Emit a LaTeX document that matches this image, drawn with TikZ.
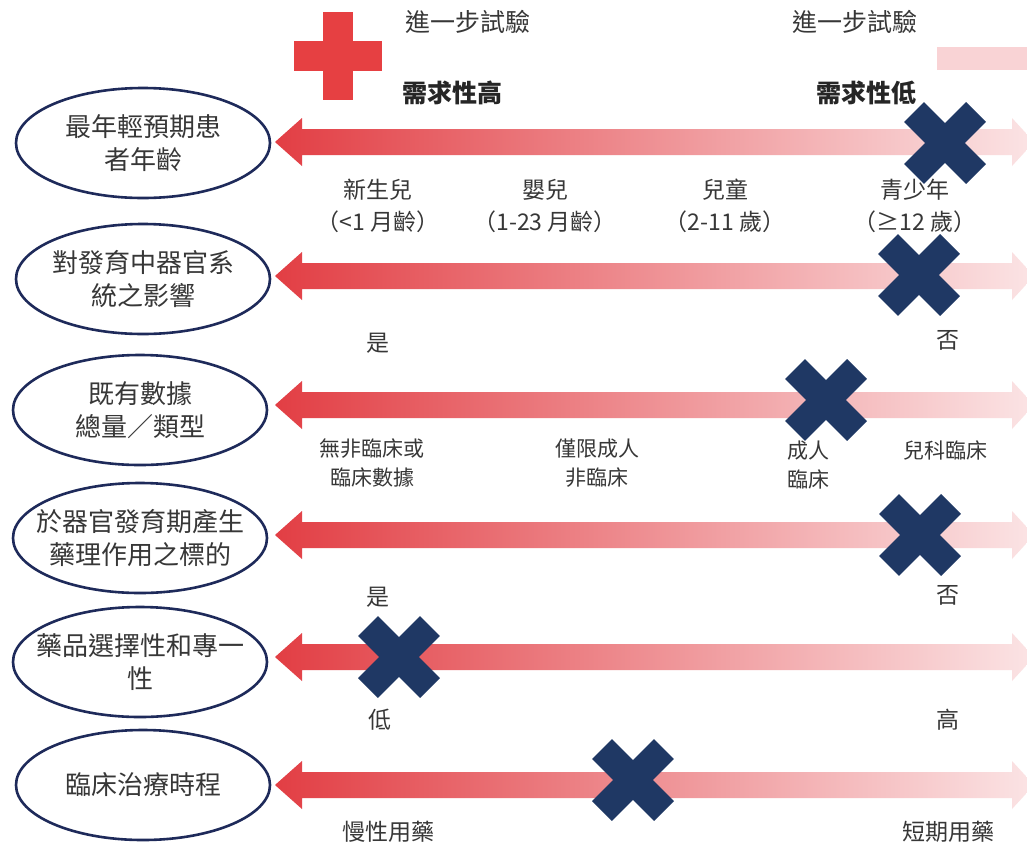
\documentclass[tikz,border=0pt]{standalone}
\usepackage{fontspec}
\newfontfamily\cjk{Noto Sans CJK TC}
\usetikzlibrary{calc,shapes.geometric}
\definecolor{arL}{RGB}{226,62,68}
\definecolor{arM}{RGB}{236,122,126}
\definecolor{arR}{RGB}{251,228,229}
\definecolor{navy}{RGB}{31,56,100}
\definecolor{ellline}{RGB}{30,42,90}
\definecolor{plusred}{RGB}{230,64,66}
\definecolor{pinkbar}{RGB}{249,211,213}
\definecolor{txt}{RGB}{55,55,55}
\newcommand\rowarrow[1]{%
  \shade[left color=arL, middle color=arM, right color=arR]
    (275,#1) -- (302,#1-24) -- (302,#1-13) -- (1012,#1-13) -- (1012,#1-24)
    -- (1034,#1) -- (1012,#1+24) -- (1012,#1+13) -- (302,#1+13) -- (302,#1+24) -- cycle;}
\newcommand\navyx[1]{%
  \draw[xmark] ($(#1)+(-31,-31)$) -- ($(#1)+(31,31)$);
  \draw[xmark] ($(#1)+(-31,31)$) -- ($(#1)+(31,-31)$);}
\tikzset{
  topic/.style={ellipse, draw=ellline, line width=2.6pt, minimum width=254pt, minimum height=110pt, inner sep=0pt},
  etext/.style={align=center, text=txt, inner sep=0pt, font=\cjk\fontsize{26}{33}\selectfont},
  lbl/.style={align=center, text=txt, font=\cjk\fontsize{23}{32}\selectfont, inner sep=0pt},
  slbl/.style={align=center, text=txt, font=\cjk\fontsize{21}{29}\selectfont, inner sep=0pt},
  head/.style={text=txt, font=\cjk\fontsize{25}{30}\selectfont, inner sep=0pt},
  headb/.style={text=black!85, font=\cjk\bfseries\fontsize{25}{30}\selectfont, inner sep=0pt},
  xmark/.style={draw=navy, line width=28pt, line cap=butt},
}
\begin{document}
\begin{tikzpicture}[x=1pt,y=-1pt]
\useasboundingbox (0,0) rectangle (1027,852);
\clip (0,0) rectangle (1027,852);
\fill[white] (0,0) rectangle (1027,852);
% legend
\fill[plusred] (294,41) rectangle (382,71);
\fill[plusred] (323,12) rectangle (353,100);
\node[head] (t1) at (468,22) {進一步試驗};
\node[headb] (t2) at (452,93) {需求性高};
\node[head] (t3) at (855,22) {進一步試驗};
\node[headb] (t4) at (866,93) {需求性低};
\fill[pinkbar] (937,47) rectangle (1027,70);
% arrows
\rowarrow{142}
\rowarrow{276}
\rowarrow{405}
\rowarrow{535}
\rowarrow{657}
\rowarrow{785}
% ellipses
\node[topic] (e1) at (143,143) {};
\node[topic] (e2) at (143,279) {};
\node[topic] (e3) at (140,410) {};
\node[topic] (e4) at (140,538) {};
\node[topic] (e5) at (140,662) {};
\node[topic] (e6) at (143,785) {};
\node[etext] (e1t) at (e1) {最年輕預期患\\者年齡};
\node[etext] (e2t) at (e2) {對發育中器官系\\統之影響};
\node[etext] (e3t) at (e3) {既有數據\\總量／類型};
\node[etext] (e4t) at (e4) {於器官發育期產生\\藥理作用之標的};
\node[etext] (e5t) at (e5) {藥品選擇性和專一\\性};
\node[etext] (e6t) at (e6) {臨床治療時程};
% row 1 labels
\node[lbl] (a1) at (378,206) {新生兒\\（<1 月齡）};
\node[lbl] (a2) at (545,206) {嬰兒\\（1-23 月齡）};
\node[lbl] (a3) at (725,206) {兒童\\（2-11 歲）};
\node[lbl] (a4) at (915,206) {青少年\\（≥12 歲）};
% row 2
\node[lbl] (b1) at (378,343) {是};
\node[lbl] (b2) at (948,340) {否};
% row 3
\node[slbl] (c1) at (372,463) {無非臨床或\\臨床數據};
\node[slbl] (c2) at (597,463) {僅限成人\\非臨床};
\node[slbl] (c3) at (808,465) {成人\\臨床};
\node[slbl] (c4) at (945,450) {兒科臨床};
% row 4
\node[lbl] (d1) at (378,597) {是};
\node[lbl] (d2) at (948,595) {否};
% row 5
\node[lbl] (f1) at (380,720) {低};
\node[lbl] (f2) at (948,720) {高};
% row 6
\node[lbl] (g1) at (388,832) {慢性用藥};
\node[lbl] (g2) at (948,832) {短期用藥};
% X marks
\coordinate (x1) at (945,143);
\coordinate (x2) at (919,275);
\coordinate (x3) at (826,400);
\coordinate (x4) at (920,535);
\coordinate (x5) at (399,657);
\coordinate (x6) at (633,780);
\navyx{x1}
\navyx{x2}
\navyx{x3}
\navyx{x4}
\navyx{x5}
\navyx{x6}
\end{tikzpicture}
\end{document}
